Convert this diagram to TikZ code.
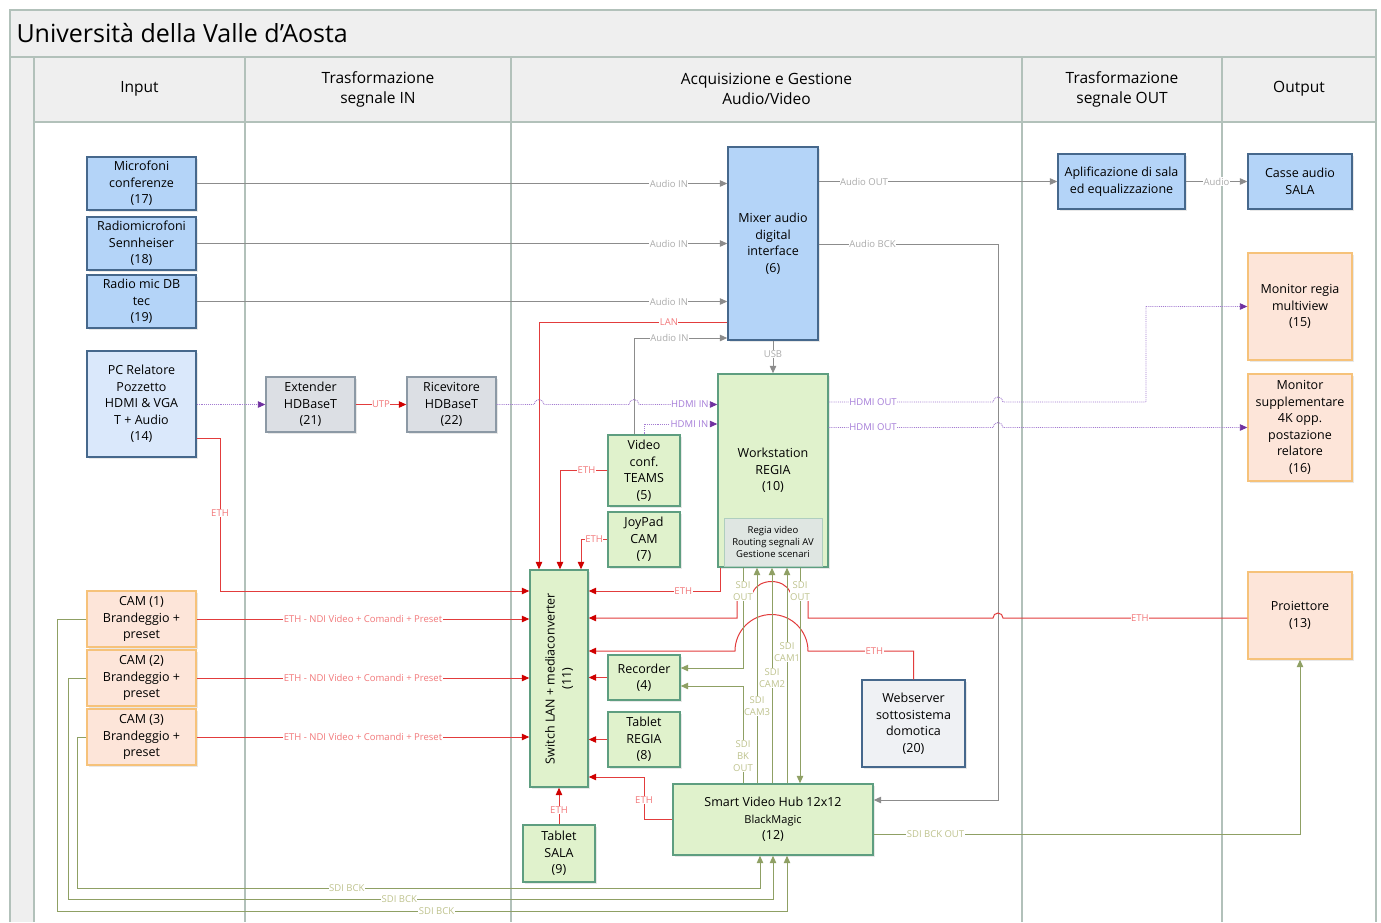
\documentclass[tikz,border=0pt]{standalone}
\usepackage{fontspec}
\setmainfont{Open Sans}
\usetikzlibrary{calc, positioning}
\usetikzlibrary{arrows.meta}
\usetikzlibrary{shadows}

\definecolor{laneline}{HTML}{B2C1BA}
\definecolor{headfill}{HTML}{EFEFEF}
\definecolor{bluefill}{HTML}{B4D4F8}
\definecolor{blueedge}{HTML}{46688C}
\definecolor{pcfill}{HTML}{DAE8FB}
\definecolor{grayfill}{HTML}{DCDFE4}
\definecolor{grayedge}{HTML}{8C99A5}
\definecolor{greenfill}{HTML}{E0F2CC}
\definecolor{greenedge}{HTML}{5E9E80}
\definecolor{notefill}{HTML}{DFE6E2}
\definecolor{orangefill}{HTML}{FDE5D9}
\definecolor{orangeedge}{HTML}{F6C27A}
\definecolor{webfill}{HTML}{EFF1F4}
\definecolor{audioline}{HTML}{8C8C8C}
\definecolor{audiotext}{HTML}{ABABAB}
\definecolor{ethline}{HTML}{E23C3C}
\definecolor{etharrow}{HTML}{D00000}
\definecolor{ethtext}{HTML}{F2787A}
\definecolor{hdmiline}{HTML}{A47CD1}
\definecolor{hdmiarrow}{HTML}{7030A0}
\definecolor{hdmitext}{HTML}{A57CD8}
\definecolor{sdiline}{HTML}{8FA064}
\definecolor{sditext}{HTML}{BFC38E}

\newcommand{\boxfont}{\fontsize{12.5}{16.5}\selectfont}
\newcommand{\lblfont}{\fontsize{9.5}{12}\selectfont}

\tikzset{
    block/.style = {
        draw, rectangle, line width=1.4pt, align=center, inner sep=1pt, font=\boxfont,
        drop shadow={opacity=0.18, shadow xshift=1.5pt, shadow yshift=-1.5pt}
    },
    dim/.style 2 args = {minimum width=#1, minimum height=#2},
    audiobox/.style = {block, fill=bluefill, draw=blueedge},
    pcbox/.style = {block, fill=pcfill, draw=blueedge},
    hdbox/.style = {block, fill=grayfill, draw=grayedge},
    regiabox/.style = {block, fill=greenfill, draw=greenedge},
    outbox/.style = {block, fill=orangefill, draw=orangeedge},
    webbox/.style = {block, fill=webfill, draw=blueedge},
    head/.style = {align=center, font=\fontsize{15.5}{20}\selectfont},
}
\tikzset{
    audio/.style = {draw=audioline, line width=1pt},
    eth/.style = {draw=ethline, line width=1pt},
    hdmi/.style = {draw=hdmiline, line width=0.9pt, densely dotted},
    sdi/.style = {draw=sdiline, line width=1pt},
    atip/.style = {-{Triangle[width=6.5pt,length=7.5pt]}},
    etip/.style = {-{Triangle[width=6.5pt,length=7.5pt,color=etharrow]}},
    htip/.style = {-{Triangle[width=6.5pt,length=7.5pt,color=hdmiarrow]}},
    lbl/.style = {fill=white, inner sep=0.5pt, font=\lblfont, align=center},
    alab/.style = {lbl, text=audiotext},
    elab/.style = {lbl, text=ethtext},
    hlab/.style = {lbl, text=hdmitext},
    slab/.style = {lbl, text=sditext},
}

\begin{document}
\begin{tikzpicture}[x=1pt, y=-1pt]
        \fill[white] (0,0) rectangle (1381,922);
        \useasboundingbox (0,0) rectangle (1381,922);

        % Draw lanes
        \draw[laneline, line width=1.4pt, fill=headfill] (10,10) rectangle (1376,57);
        \node[anchor=west, font=\fontsize{25}{28}\selectfont] (title) at (13,33) {Università della Valle d’Aosta};
        \fill[headfill] (10,57) rectangle (34,922);
        \fill[headfill] (34,57) rectangle (1376,122);
        \foreach \x in {10,34,245,511,1022,1222,1376}{
            \draw[laneline, line width=1.4pt] (\x,57) -- (\x,922);
        }
        \draw[laneline, line width=1.4pt] (10,57) -- (1376,57);
        \draw[laneline, line width=1.4pt] (34,122) -- (1376,122);
        \node[head] (hinput) at (139.5,89) {Input};
        \node[head] (htrin) at (378,89) {Trasformazione\\segnale IN};
        \node[head] (hacq) at (766.5,89) {Acquisizione e Gestione\\Audio/Video};
        \node[head] (htrout) at (1122,89) {Trasformazione\\segnale OUT};
        \node[head] (houtput) at (1299,89) {Output};

        % Place the blocks
        \node[audiobox, dim={109pt}{53pt}] (mic17) at (141.5,183.5) {Microfoni\\conferenze\\(17)};
        \node[audiobox, dim={109pt}{53pt}] (mic18) at (141.5,243.5) {Radiomicrofoni\\Sennheiser\\(18)};
        \node[audiobox, dim={109pt}{53pt}] (mic19) at (141.5,301.5) {Radio mic DB\\tec\\(19)};
        \node[pcbox, dim={109pt}{106pt}] (pc14) at (141.5,404) {PC Relatore\\Pozzetto\\HDMI \& VGA\\T + Audio\\(14)};
        \node[outbox, dim={109pt}{56pt}] (cam1) at (141.5,619) {CAM (1)\\Brandeggio +\\preset};
        \node[outbox, dim={109pt}{56pt}] (cam2) at (141.5,678) {CAM (2)\\Brandeggio +\\preset};
        \node[outbox, dim={109pt}{56pt}] (cam3) at (141.5,737) {CAM (3)\\Brandeggio +\\preset};

        \node[hdbox, dim={89pt}{55pt}] (ext21) at (310.5,404.5) {Extender\\HDBaseT\\(21)};
        \node[hdbox, dim={89pt}{55pt}] (ric22) at (451.5,404.5) {Ricevitore\\HDBaseT\\(22)};

        \node[audiobox, dim={90pt}{193pt}] (mixer6) at (773,243.5) {Mixer audio\\digital\\interface\\(6)};
        \node[regiabox, dim={110pt}{193pt}] (ws10) at (773,470.5) {Workstation\\REGIA\\(10)};
        \node[draw=greenedge!50, fill=notefill, line width=0.8pt, dim={98pt}{48pt}, align=center, inner sep=0pt,
              font=\fontsize{9.5}{12}\selectfont] (wsnote) at (773,542) {Regia video\\Routing segnali AV\\Gestione scenari};
        \node[regiabox, dim={72pt}{71pt}] (vc5) at (644,470.5) {Video\\conf.\\TEAMS\\(5)};
        \node[regiabox, dim={72pt}{55pt}] (joy7) at (644,539.5) {JoyPad\\CAM\\(7)};
        \node[regiabox, dim={58pt}{217pt}] (sw11) at (559,678.5) {};
        \node[rotate=90, align=center, font=\boxfont] (sw11text) at (sw11.center) {Switch LAN + mediaconverter\\(11)};
        \node[regiabox, dim={72pt}{45pt}] (rec4) at (644,677.5) {Recorder\\(4)};
        \node[regiabox, dim={72pt}{55pt}] (tabr8) at (644,739.5) {Tablet\\REGIA\\(8)};
        \node[regiabox, dim={72pt}{57pt}] (tabs9) at (559,853.5) {Tablet\\SALA\\(9)};
        \node[regiabox, dim={200pt}{71pt}] (hub12) at (773,819.5) {Smart Video Hub 12x12\\{\fontsize{11}{16}\selectfont BlackMagic}\\(12)};
        \node[webbox, dim={103pt}{87pt}] (web20) at (913.5,723.5) {Webserver\\sottosistema\\domotica\\(20)};

        \node[audiobox, dim={127pt}{55pt}] (ampl) at (1121.5,181.5) {Aplificazione di sala\\ed equalizzazione};
        \node[audiobox, dim={104pt}{55pt}] (casse) at (1300,181.5) {Casse audio\\SALA};
        \node[outbox, dim={104pt}{107pt}] (mon15) at (1300,306.5) {Monitor regia\\multiview\\(15)};
        \node[outbox, dim={104pt}{107pt}] (mon16) at (1300,427.5) {Monitor\\supplementare\\4K opp.\\postazione\\relatore\\(16)};
        \node[outbox, dim={104pt}{87pt}] (proj13) at (1300,615.5) {Proiettore\\(13)};

        % Draw connections: audio
        \draw[audio, atip] (mic17.east) -- node[alab, pos=0.89]{Audio IN} (mic17.east -| mixer6.west);
        \draw[audio, atip] (mic18.east) -- node[alab, pos=0.89]{Audio IN} (mic18.east -| mixer6.west);
        \draw[audio, atip] (mic19.east) -- node[alab, pos=0.89]{Audio IN} (mic19.east -| mixer6.west);
        \draw[audio, atip] ([xshift=-10pt]vc5.north) |- node[alab, pos=0.69]{Audio IN} (mixer6.west |- 0,338);
        \draw[audio, atip] (mixer6.east |- ampl.west) -- node[alab, pos=0.19]{Audio OUT} (ampl.west);
        \draw[audio, atip] (ampl.east) -- node[alab]{Audio} (casse.west);
        \draw[audio, atip] (mixer6.east |- 0,244) -- node[alab, pos=0.3]{Audio BCK} (998,244) -- (998,800) -- (hub12.east |- 0,800);
        \draw[audio, atip] (mixer6.south) -- node[alab, pos=0.41]{USB} (ws10.north);

        % Draw connections: network
        \draw[eth, etip] (mixer6.west |- 0,322) -- node[elab, pos=0.31]{LAN} (539,322) -- (sw11.north -| 539,0);
        \draw[eth, etip] (vc5.west) -- node[elab, pos=0.44]{ETH} (560,470.5) -- (sw11.north -| 560,0);
        \draw[eth, etip] (joy7.west) -- node[elab, pos=0.5]{ETH} (581,539.5) -- (sw11.north -| 581,0);
        \draw[eth, etip] (pc14.east |- 0,438) -- (220,438) -- node[elab, pos=0.49]{ETH} (220,591) -- (sw11.west |- 0,591);
        \draw[eth, etip] (cam1.east) -- node[elab]{ETH - NDI Video + Comandi + Preset} (cam1.east -| sw11.west);
        \draw[eth, etip] (cam2.east) -- node[elab]{ETH - NDI Video + Comandi + Preset} (cam2.east -| sw11.west);
        \draw[eth, etip] (cam3.east) -- node[elab]{ETH - NDI Video + Comandi + Preset} (cam3.east -| sw11.west);
        \draw[eth, etip] (ext21.east) -- node[elab]{UTP} (ric22.west);
        \draw[eth, etip] (ws10.south -| 720,0) -- (720,591) -- node[elab, pos=0.28]{ETH} (sw11.east |- 0,591);
        \draw[eth, etip] (proj13.west |- 0,618) -- node[elab, pos=0.44]{ETH} (1003,618)
            arc[start angle=0, end angle=-180, radius=5] -- (808,618) -- (808,592) -- (790,592)
            .. controls (784,578) and (759,578) .. (753,592) -- (737,592) -- (737,618) -- (sw11.east |- 0,618);
        \draw[eth, etip] (web20.north) -- (web20.north |- 0,651) -- node[elab, pos=0.37]{ETH} (808,651)
            arc[start angle=0, end angle=-180, radius=36.5] -- (sw11.east |- 0,651);
        \draw[eth, etip] (rec4.west) -- (rec4.west -| sw11.east);
        \draw[eth, etip] (tabr8.west) -- (tabr8.west -| sw11.east);
        \draw[eth, etip] (hub12.west) -- (644,819.5) -- node[elab, pos=0.45]{ETH} (644,777) -- (sw11.east |- 0,777);
        \draw[eth, etip] (tabs9.north) -- node[elab, pos=0.4]{ETH} (sw11.south);

        % Draw connections: HDMI
        \draw[hdmi, htip] (pc14.east |- ext21.west) -- (ext21.west);
        \draw[hdmi, htip] (ric22.east) -- (534,404.5) arc[start angle=180, end angle=360, radius=5]
            -- (629,404.5) arc[start angle=180, end angle=360, radius=5]
            -- node[hlab, pos=0.65]{HDMI IN} (ws10.west |- 0,404.5);
        \draw[hdmi, htip] (vc5.north) |- node[hlab, pos=0.81]{HDMI IN} (ws10.west |- 0,424);
        \draw[hdmi, htip] (ws10.east |- 0,402) -- node[hlab, pos=0.27]{HDMI OUT} (993,402)
            arc[start angle=180, end angle=360, radius=5] -- (1146,402) -- (1146,306.5) -- (mon15.west);
        \draw[hdmi, htip] (ws10.east |- mon16.west) -- node[hlab, pos=0.27]{HDMI OUT} (993,427.5)
            arc[start angle=180, end angle=360, radius=5] -- (mon16.west);

        % Draw connections: SDI
        \draw[sdi, atip] (ws10.south -| 743,0) -- node[slab, pos=0.23]{SDI\\OUT} (743,668) -- (rec4.east |- 0,668);
        \draw[sdi, atip] (hub12.north -| 743,0) -- node[slab, pos=0.28]{SDI\\BK\\OUT} (743,686) -- (rec4.east |- 0,686);
        \draw[sdi, atip] (hub12.north -| 757,0) -- node[slab, pos=0.36]{SDI\\CAM3} (ws10.south -| 757,0);
        \draw[sdi, atip] (hub12.north -| 772,0) -- node[slab, pos=0.49]{SDI\\CAM2} (ws10.south -| 772,0);
        \draw[sdi, atip] (hub12.north -| 787,0) -- node[slab, pos=0.61]{SDI\\CAM1} (ws10.south -| 787,0);
        \draw[sdi, atip] (ws10.south -| 800,0) -- node[slab, pos=0.11]{SDI\\OUT} (hub12.north -| 800,0);
        \draw[sdi, atip] (hub12.east |- 0,834) -- node[slab, pos=0.145]{SDI BCK OUT} (1300,834) -- (proj13.south);
        \draw[sdi, atip] (cam1.west) -- (57,619) -- (57,911) -- node[slab, pos=0.52]{SDI BCK} (787,911) -- (hub12.south -| 787,0);
        \draw[sdi, atip] (cam2.west) -- (68,678) -- (68,899) -- node[slab, pos=0.47]{SDI BCK} (773,899) -- (hub12.south -| 773,0);
        \draw[sdi, atip] (cam3.west) -- (77,737) -- (77,888) -- node[slab, pos=0.395]{SDI BCK} (760,888) -- (hub12.south -| 760,0);
\end{tikzpicture}
\end{document}
